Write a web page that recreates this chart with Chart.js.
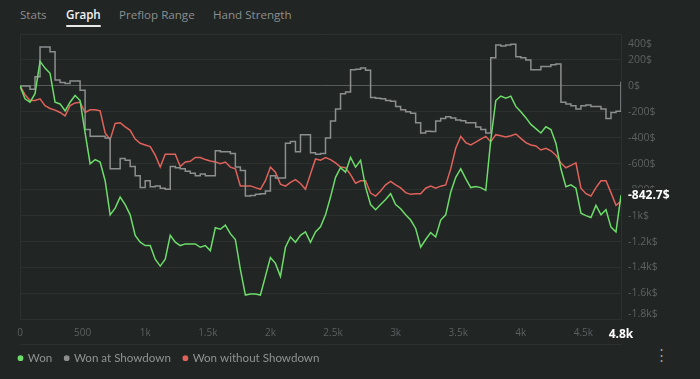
<!DOCTYPE html>
<html>
<head>
<meta charset="utf-8">
<script src="https://cdn.jsdelivr.net/npm/chart.js@4.4.1/dist/chart.umd.min.js"></script>
<style>
  html, body { margin: 0; padding: 0; background: #212524; }
  body { width: 700px; height: 379px; position: relative; overflow: hidden; font-family: "Open Sans", "Noto Sans", sans-serif; }
  #chart { position: absolute; left: 0; top: 0; }
  .tab { position: absolute; top: 7px; font-size: 11.6px; color: #8b8f8e; white-space: nowrap; }
  .tab.active { color: #f2f2f2; font-weight: 600; }
  .tab.active::after { content: ""; position: absolute; left: 0; right: 0; top: 18px; height: 2px; background: #e8e8e8; border-radius: 1px; }
  #more { position: absolute; left: 654px; top: 344px; font-size: 15px; color: #9a9d9c; }
</style>
</head>
<body>
<span class="tab" style="left:20px">Stats</span>
<span class="tab active" style="left:66px">Graph</span>
<span class="tab" style="left:119px">Preflop Range</span>
<span class="tab" style="left:213px">Hand Strength</span>
<div id="more">&#8942;</div>
<canvas id="chart" width="700" height="379"></canvas>
<script>
// hands played (x) and running winnings ($) for each line
const hands = [
  0, 40, 80, 120, 160, 200, 240, 280, 320, 360,
  400, 440, 480, 520, 560, 600, 640, 680, 720, 760,
  800, 840, 880, 920, 960, 1000, 1040, 1080, 1120, 1160,
  1200, 1240, 1280, 1320, 1360, 1400, 1440, 1480, 1520, 1560,
  1600, 1640, 1680, 1720, 1760, 1800, 1840, 1880, 1920, 1960,
  2000, 2040, 2080, 2120, 2160, 2200, 2240, 2280, 2320, 2360,
  2400, 2440, 2480, 2520, 2560, 2600, 2640, 2680, 2720, 2760,
  2800, 2840, 2880, 2920, 2960, 3000, 3040, 3080, 3120, 3160,
  3200, 3240, 3280, 3320, 3360, 3400, 3440, 3480, 3520, 3560,
  3600, 3640, 3680, 3720, 3760, 3800, 3840, 3880, 3920, 3960,
  4000, 4040, 4080, 4120, 4160, 4200, 4240, 4280, 4320, 4360,
  4400, 4440, 4480, 4520, 4560, 4600, 4640, 4680, 4720, 4760,
  4800
];

const won = [
  0, -100, -126, -60, 189, 137, 97, -126, -139, -192,
  -126, -74, -113, -363, -600, -568, -587, -731, -994, -942,
  -857, -915, -994, -1152, -1205, -1231, -1231, -1336, -1389, -1336,
  -1152, -1205, -1231, -1218, -1218, -1218, -1244, -1231, -1270, -1094,
  -1105, -1073, -1139, -1184, -1415, -1612, -1604, -1604, -1612, -1468,
  -1323, -1368, -1468, -1244, -1165, -1205, -1152, -1126, -1205, -1126,
  -1086, -994, -857, -705, -631, -665, -552, -626, -573, -780,
  -915, -955, -915, -876, -831, -915, -947, -994, -1034, -1099,
  -1244, -1184, -1131, -1165, -1034, -994, -820, -705, -640, -715,
  -784, -776, -784, -805, -416, -113, -79, -95, -79, -158,
  -200, -245, -297, -329, -363, -315, -337, -442, -639, -778,
  -763, -789, -981, -1000, -1015, -921, -994, -955, -1089, -1126,
  -842.7
];

const wonShowdown = [
  0, 0, -26, 70, 300, 300, 263, 45, 26, 18,
  37, 37, -34, -337, -389, -389, -389, -402, -639, -639,
  -560, -573, -621, -692, -784, -731, -778, -771, -789, -797,
  -621, -631, -639, -658, -673, -692, -679, -692, -692, -500,
  -508, -508, -521, -626, -652, -849, -844, -836, -831, -810,
  -692, -710, -710, -442, -429, -508, -376, -376, -515, -526,
  -521, -402, -271, -179, -60, -47, 124, 129, 137, 121,
  -89, -95, -100, -113, -118, -158, -184, -200, -210, -284,
  -363, -350, -352, -271, -252, -237, -247, -263, -268, -284,
  -284, -316, -337, -363, 216, 316, 308, 316, 321, 224,
  216, 200, 124, 124, 150, 150, 163, 168, -126, -139,
  -153, -179, -153, -147, -158, -158, -179, -252, -205, -195,
  32
];

const wonNoShowdown = [
  0, -68, -113, -113, -100, -152, -174, -187, -205, -231,
  -152, -131, -126, -205, -184, -184, -192, -363, -415, -289,
  -284, -316, -342, -410, -442, -455, -468, -534, -626, -526,
  -526, -526, -621, -586, -581, -552, -552, -568, -579, -586,
  -600, -587, -626, -639, -771, -771, -771, -784, -797, -731,
  -626, -665, -757, -773, -744, -723, -752, -797, -679, -563,
  -573, -552, -568, -594, -626, -631, -684, -750, -731, -731,
  -826, -849, -810, -763, -736, -763, -786, -823, -836, -831,
  -831, -789, -773, -789, -773, -763, -640, -481, -389, -437,
  -455, -434, -410, -389, -431, -376, -384, -394, -384, -371,
  -405, -437, -455, -463, -494, -481, -500, -534, -594, -631,
  -613, -594, -789, -831, -849, -784, -731, -731, -823, -921,
  -890
];

const xTicks = [0, 500, 1000, 1500, 2000, 2500, 3000, 3500, 4000, 4500, 4800];
const yTicks = [400, 200, 0, -200, -400, -600, -800, -1000, -1200, -1400, -1600, -1800];

const GREEN = '#6ddc6a';
const GRAY = '#8c8f8e';
const RED = '#e0625b';
const BG = '#212524';
const GRID = '#2c3130';

const pts = (vals) => hands.map((h, i) => ({ x: h, y: vals[i] }));

const fmtHands = (v) => v === 0 ? '0' : (v >= 1000 ? (v / 1000) + 'k' : String(v));
const fmtMoney = (v) => {
  if (v === 0) return '0$';
  if (Math.abs(v) >= 1000) return (v / 1000) + 'k$';
  return v + '$';
};

// right side labels: clamp the end ones inside the pane, plus last value badge
const sideLabels = {
  id: 'sideLabels',
  afterDraw(chart) {
    const { ctx, chartArea, scales } = chart;
    const y = scales.y;
    ctx.save();
    ctx.font = '10.5px "Open Sans", sans-serif';
    ctx.fillStyle = '#5d6261';
    ctx.textAlign = 'left';
    ctx.textBaseline = 'middle';
    yTicks.forEach(v => {
      let py = y.getPixelForValue(v);
      py = Math.min(Math.max(py, chartArea.top + 10), chartArea.bottom - 5);
      ctx.fillText(fmtMoney(v), chartArea.right + 7, py);
    });

    // last value of "Won"
    const last = won[won.length - 1];
    const py = y.getPixelForValue(last);
    ctx.fillStyle = BG;
    ctx.fillRect(chartArea.right + 4, py - 7, 56, 13);
    ctx.font = 'bold 12px "Open Sans", sans-serif';
    ctx.fillStyle = '#ffffff';
    ctx.fillText(last.toFixed(1) + '$', chartArea.right + 7, py);

    // separator between the hand axis and the legend
    const sy = Math.round(chartArea.bottom + 25) + 0.5;
    ctx.strokeStyle = GRID;
    ctx.lineWidth = 1;
    ctx.beginPath();
    ctx.moveTo(chartArea.left, sy);
    ctx.lineTo(chartArea.right, sy);
    ctx.stroke();
    ctx.restore();
  }
};

new Chart(document.getElementById('chart'), {
  type: 'line',
  data: {
    datasets: [
      {
        label: 'Won',
        data: pts(won),
        borderColor: GREEN,
        backgroundColor: GREEN,
        borderWidth: 1.5,
        pointRadius: 0,
        tension: 0,
      },
      {
        label: 'Won at Showdown',
        data: pts(wonShowdown),
        borderColor: GRAY,
        backgroundColor: GRAY,
        borderWidth: 1.5,
        pointRadius: 0,
        stepped: true,
      },
      {
        label: 'Won without Showdown',
        data: pts(wonNoShowdown),
        borderColor: RED,
        backgroundColor: RED,
        borderWidth: 1.5,
        pointRadius: 0,
        tension: 0,
      },
    ],
  },
  options: {
    responsive: false,
    animation: false,
    layout: {
      padding: { top: 34, left: 6, right: 0, bottom: 5 },
    },
    scales: {
      x: {
        type: 'linear',
        min: 0,
        max: 4800,
        afterBuildTicks: (s) => { s.ticks = xTicks.map(v => ({ value: v })); },
        afterFit: (s) => { s.height = 20; },
        grid: { display: false, drawTicks: false },
        border: { display: false },
        ticks: {
          autoSkip: false,
          maxRotation: 0,
          padding: 8,
          callback: (v) => v === 4800 ? '4.8k' : fmtHands(v),
          color: (c) => c.tick && c.tick.value === 4800 ? '#ffffff' : '#5b605f',
          font: (c) => c.tick && c.tick.value === 4800
            ? { family: '"Open Sans", sans-serif', size: 12, weight: 'bold' }
            : { family: '"Open Sans", sans-serif', size: 10 },
        },
      },
      y: {
        position: 'right',
        min: -1800,
        max: 400,
        afterBuildTicks: (s) => { s.ticks = yTicks.map(v => ({ value: v })); },
        afterFit: (s) => { s.width = 79; },
        grid: {
          drawTicks: false,
          color: (c) => c.tick && c.tick.value === 0 ? '#575c5b' : GRID,
        },
        border: { display: true, color: GRID },
        ticks: { display: false },
      },
      yl: {
        position: 'left',
        min: -1800,
        max: 400,
        afterFit: (s) => { s.width = 14; },
        grid: { display: false, drawTicks: false },
        border: { display: true, color: GRID },
        ticks: { display: false },
      },
    },
    plugins: {
      legend: {
        position: 'bottom',
        align: 'start',
        labels: {
          usePointStyle: true,
          pointStyle: 'circle',
          boxWidth: 3,
          boxHeight: 3,
          padding: 13,
          color: '#8f9392',
          font: { family: 'Lato, sans-serif', size: 11.6 },
        },
      },
      tooltip: { enabled: false },
    },
  },
  plugins: [sideLabels],
});
</script>
</body>
</html>
